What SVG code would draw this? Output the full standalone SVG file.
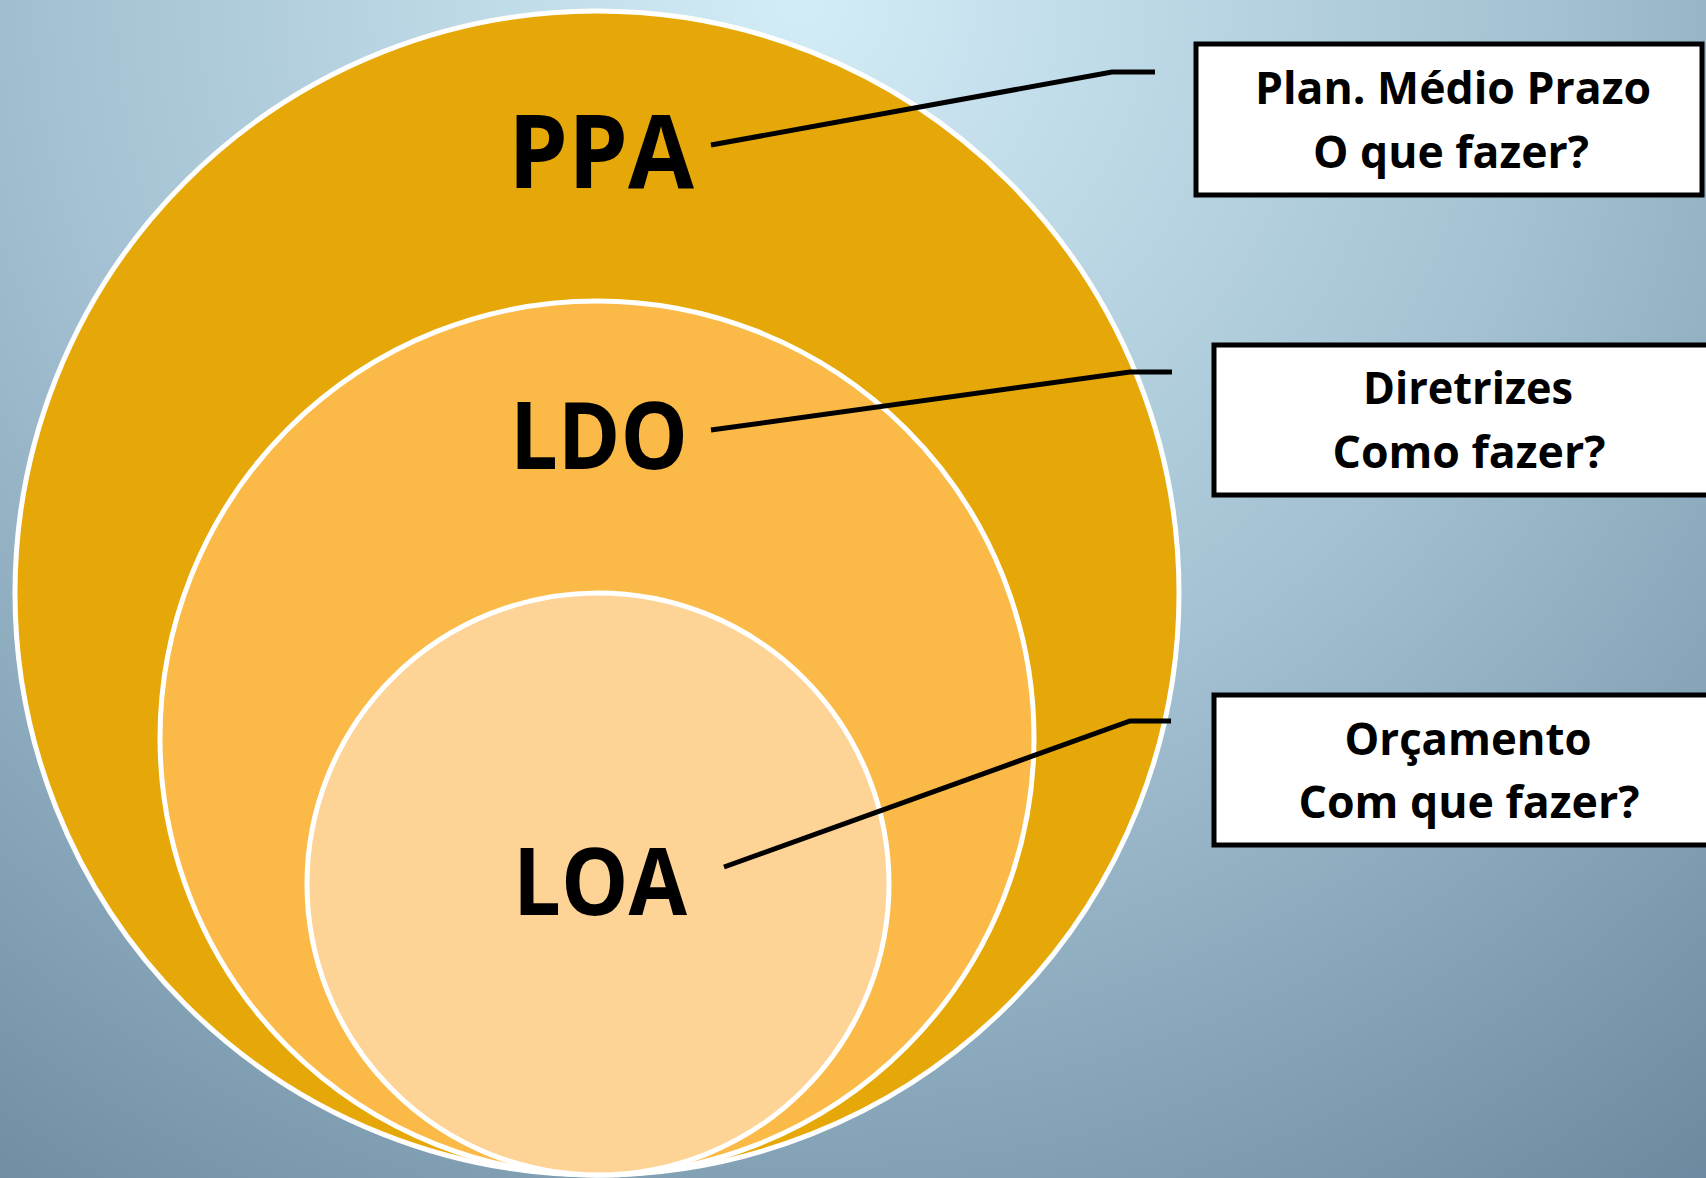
<svg xmlns="http://www.w3.org/2000/svg" width="1706" height="1178" viewBox="0 0 1706 1178">
  <defs>
    <radialGradient id="bg" gradientUnits="userSpaceOnUse" cx="800" cy="0" r="1500">
      <stop offset="0" stop-color="#d3edf7"/>
      <stop offset="0.5" stop-color="#a3c1d2"/>
      <stop offset="1" stop-color="#6a899e"/>
    </radialGradient>
    <style>
      .ring { stroke: #ffffff; stroke-width: 5; }
      .big { font-family: "Open Sans", "Liberation Sans", sans-serif; font-weight: 700; fill: #000000; text-anchor: middle; }
      .box { fill: #ffffff; stroke: #000000; stroke-width: 5; }
      .lbl { font-family: "Open Sans", "Liberation Sans", sans-serif; font-weight: 700; font-size: 44px; fill: #000000; text-anchor: middle; }
      .conn { fill: none; stroke: #000000; stroke-width: 5; stroke-linejoin: miter; }
    </style>
  </defs>
  <rect x="0" y="0" width="1706" height="1178" fill="url(#bg)"/>

  <g id="ppa">
    <circle class="ring" cx="597" cy="593" r="582" fill="#e6a708"/>
    <text class="big" x="601" y="188" font-size="102" textLength="186" lengthAdjust="spacingAndGlyphs">PPA</text>
  </g>
  <g id="ldo">
    <circle class="ring" cx="597" cy="738" r="437" fill="#fbba48"/>
    <text class="big" x="599" y="469" font-size="94" textLength="178" lengthAdjust="spacingAndGlyphs">LDO</text>
  </g>
  <g id="loa">
    <circle class="ring" cx="598" cy="884" r="291" fill="#fdd396"/>
    <text class="big" x="600" y="915" font-size="94" textLength="174" lengthAdjust="spacingAndGlyphs">LOA</text>
  </g>

  <g id="box-ppa">
    <rect class="box" x="1196" y="44" width="506" height="151"/>
    <text class="lbl" x="1453" y="104" textLength="396" lengthAdjust="spacingAndGlyphs">Plan. Médio Prazo</text>
    <text class="lbl" x="1451" y="168" textLength="276" lengthAdjust="spacingAndGlyphs">O que fazer?</text>
  </g>
  <g id="box-ldo">
    <rect class="box" x="1214" y="345" width="520" height="150"/>
    <text class="lbl" x="1468" y="404" textLength="210" lengthAdjust="spacingAndGlyphs">Diretrizes</text>
    <text class="lbl" x="1469" y="468" textLength="273" lengthAdjust="spacingAndGlyphs">Como fazer?</text>
  </g>
  <g id="box-loa">
    <rect class="box" x="1214" y="695" width="520" height="150"/>
    <text class="lbl" x="1468" y="755" textLength="247" lengthAdjust="spacingAndGlyphs">Orçamento</text>
    <text class="lbl" x="1469" y="818" textLength="341" lengthAdjust="spacingAndGlyphs">Com que fazer?</text>
  </g>

  <g id="connectors">
    <polyline class="conn" points="711,145 1112,72 1155,72"/>
    <polyline class="conn" points="711,430 1130,372 1172,372"/>
    <polyline class="conn" points="724,867 1130,721 1171,721"/>
  </g>
</svg>
